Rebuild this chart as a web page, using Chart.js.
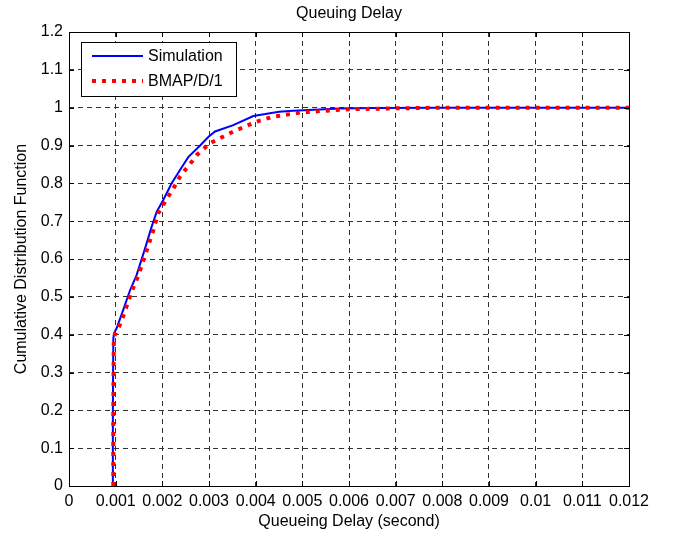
<!DOCTYPE html>
<html>
<head>
<meta charset="utf-8">
<script src="https://cdn.jsdelivr.net/npm/chart.js@4.4.0/dist/chart.umd.min.js"></script>
<style>
html,body{margin:0;padding:0;background:#fff;}
#wrap{width:680px;height:537px;position:relative;}
</style>
</head>
<body>
<div id="wrap"><canvas id="c"></canvas></div>
<script>
const titleText = 'Queuing Delay';
const xTitle = 'Queueing Delay (second)';
const yTitle = 'Cumulative Distribution Function';
const seriesNames = ['Simulation', 'BMAP/D/1'];

const simX = [0.00094, 0.00094, 0.00095, 0.00097, 0.00102, 0.00116, 0.00131, 0.00145, 0.00163, 0.00177, 0.00188, 0.00202, 0.0022, 0.00245, 0.00256, 0.00281, 0.00299, 0.00313, 0.00352, 0.00395, 0.0045, 0.0048, 0.0058, 0.0065, 0.008, 0.012];
const simY = [0, 0.2, 0.39, 0.405, 0.417, 0.465, 0.518, 0.558, 0.628, 0.685, 0.725, 0.756, 0.8, 0.849, 0.87, 0.9, 0.923, 0.937, 0.954, 0.978, 0.989, 0.992, 0.998, 0.999, 1.0, 1.0];

const bmapX = [0.00095, 0.00095, 0.00096, 0.00098, 0.00104, 0.00118, 0.00133, 0.00149, 0.00163, 0.00181, 0.00191, 0.00206, 0.00224, 0.00238, 0.00252, 0.00263, 0.00274, 0.00302, 0.00352, 0.00402, 0.00437, 0.00495, 0.0055, 0.006, 0.0069, 0.008, 0.012];
const bmapY = [0, 0.2, 0.385, 0.4, 0.41, 0.455, 0.51, 0.558, 0.61, 0.677, 0.72, 0.752, 0.787, 0.818, 0.84, 0.857, 0.875, 0.906, 0.937, 0.963, 0.976, 0.987, 0.992, 0.996, 0.998, 1.0, 1.0];

const xTickValues = [0, 0.001, 0.002, 0.003, 0.004, 0.005, 0.006, 0.007, 0.008, 0.009, 0.01, 0.011, 0.012];
const xTickLabels = ['0', '0.001', '0.002', '0.003', '0.004', '0.005', '0.006', '0.007', '0.008', '0.009', '0.01', '0.011', '0.012'];
const yTickValues = [0, 0.1, 0.2, 0.3, 0.4, 0.5, 0.6, 0.7, 0.8, 0.9, 1.0, 1.1, 1.2];
const yTickLabels = ['0', '0.1', '0.2', '0.3', '0.4', '0.5', '0.6', '0.7', '0.8', '0.9', '1', '1.1', '1.2'];

const FONT = '"Liberation Sans", Arial, sans-serif';
const FS = 16;

function pts(xs, ys){ return xs.map((x,i)=>({x:x, y:ys[i]})); }

const framePlugin = {
  id: 'frame',
  afterDatasetsDraw(chart){
    const ctx = chart.ctx, a = chart.chartArea;
    const xs = chart.scales.x, ys = chart.scales.y;
    ctx.save();
    ctx.strokeStyle = '#000';
    ctx.lineWidth = 1;
    ctx.setLineDash([]);
    ctx.strokeRect(Math.round(a.left)+0.5, Math.round(a.top)+0.5, Math.round(a.right-a.left), Math.round(a.bottom-a.top));
    const L = 5;
    ctx.beginPath();
    xTickValues.forEach(v=>{
      const p = Math.round(xs.getPixelForValue(v))+0.5;
      ctx.moveTo(p, a.bottom); ctx.lineTo(p, a.bottom-L);
      ctx.moveTo(p, a.top); ctx.lineTo(p, a.top+L);
    });
    yTickValues.forEach(v=>{
      const p = Math.round(ys.getPixelForValue(v))+0.5;
      ctx.moveTo(a.left, p); ctx.lineTo(a.left+L, p);
      ctx.moveTo(a.right, p); ctx.lineTo(a.right-L, p);
    });
    ctx.stroke();

    // legend
    const bx = 81.5, by = 42.5, bw = 155, bh = 54;
    ctx.fillStyle = '#fff';
    ctx.fillRect(bx, by, bw, bh);
    ctx.strokeStyle = '#000';
    ctx.lineWidth = 1;
    ctx.strokeRect(bx, by, bw, bh);
    const rows = [56, 81];
    chart.data.datasets.forEach((ds)=>{
      const idx = seriesNames.indexOf(ds.label);
      const y = rows[idx];
      ctx.save();
      ctx.strokeStyle = ds.borderColor;
      ctx.lineWidth = ds.borderWidth;
      ctx.lineCap = 'butt';
      ctx.setLineDash(ds.borderDash || []);
      ctx.beginPath();
      ctx.moveTo(92, y); ctx.lineTo(143, y);
      ctx.stroke();
      ctx.restore();
      ctx.fillStyle = '#000';
      ctx.font = FS + 'px ' + FONT;
      ctx.textAlign = 'left';
      ctx.textBaseline = 'middle';
      ctx.fillText(ds.label, 148, y + 1);
    });

    // title
    ctx.fillStyle = '#000';
    ctx.font = FS + 'px ' + FONT;
    ctx.textAlign = 'center';
    ctx.textBaseline = 'middle';
    ctx.fillText(titleText, (a.left+a.right)/2, 14);
    ctx.restore();
  }
};

new Chart(document.getElementById('c'), {
  type: 'line',
  data: {
    datasets: [
      {
        label: seriesNames[0],
        data: pts(simX, simY),
        borderColor: '#0000ff',
        borderWidth: 2,
        pointRadius: 0,
        tension: 0,
        fill: false,
        order: 1
      },
      {
        label: seriesNames[1],
        data: pts(bmapX, bmapY),
        borderColor: '#ff0000',
        borderWidth: 4,
        borderDash: [4, 6],
        borderCapStyle: 'butt',
        pointRadius: 0,
        tension: 0,
        fill: false,
        order: 0
      }
    ]
  },
  options: {
    responsive: true,
    maintainAspectRatio: false,
    animation: false,
    events: [],
    layout: { padding: { left: 0, right: 51, top: 32, bottom: 0 } },
    plugins: {
      legend: { display: false },
      title: { display: false },
      tooltip: { enabled: false }
    },
    scales: {
      x: {
        type: 'linear',
        min: 0, max: 0.012,
        afterBuildTicks(scale){ scale.ticks = xTickValues.map(v=>({value:v})); },
        afterFit(scale){ scale.height = 51; },
        ticks: {
          autoSkip: false, maxRotation: 0, padding: 6,
          color: '#000',
          font: { family: FONT, size: FS },
          callback(v, i){ return xTickLabels[i]; }
        },
        grid: { color: '#333', lineWidth: 1, drawTicks: false },
        border: { display: false, dash: [5, 4] },
        title: {
          display: true, text: xTitle, color: '#000',
          font: { family: FONT, size: FS }, padding: { top: 6, bottom: 6 }
        }
      },
      y: {
        type: 'linear',
        min: 0, max: 1.2,
        afterBuildTicks(scale){ scale.ticks = yTickValues.map(v=>({value:v})); },
        afterFit(scale){ scale.width = 69; },
        ticks: {
          autoSkip: false, padding: 6,
          color: '#000',
          font: { family: FONT, size: FS },
          callback(v, i){ return yTickLabels[i]; }
        },
        grid: { color: '#333', lineWidth: 1, drawTicks: false },
        border: { display: false, dash: [5, 4] },
        title: {
          display: true, text: yTitle, color: '#000',
          font: { family: FONT, size: FS }, padding: { top: 12, bottom: 12 }
        }
      }
    }
  },
  plugins: [framePlugin]
});
</script>
</body>
</html>
